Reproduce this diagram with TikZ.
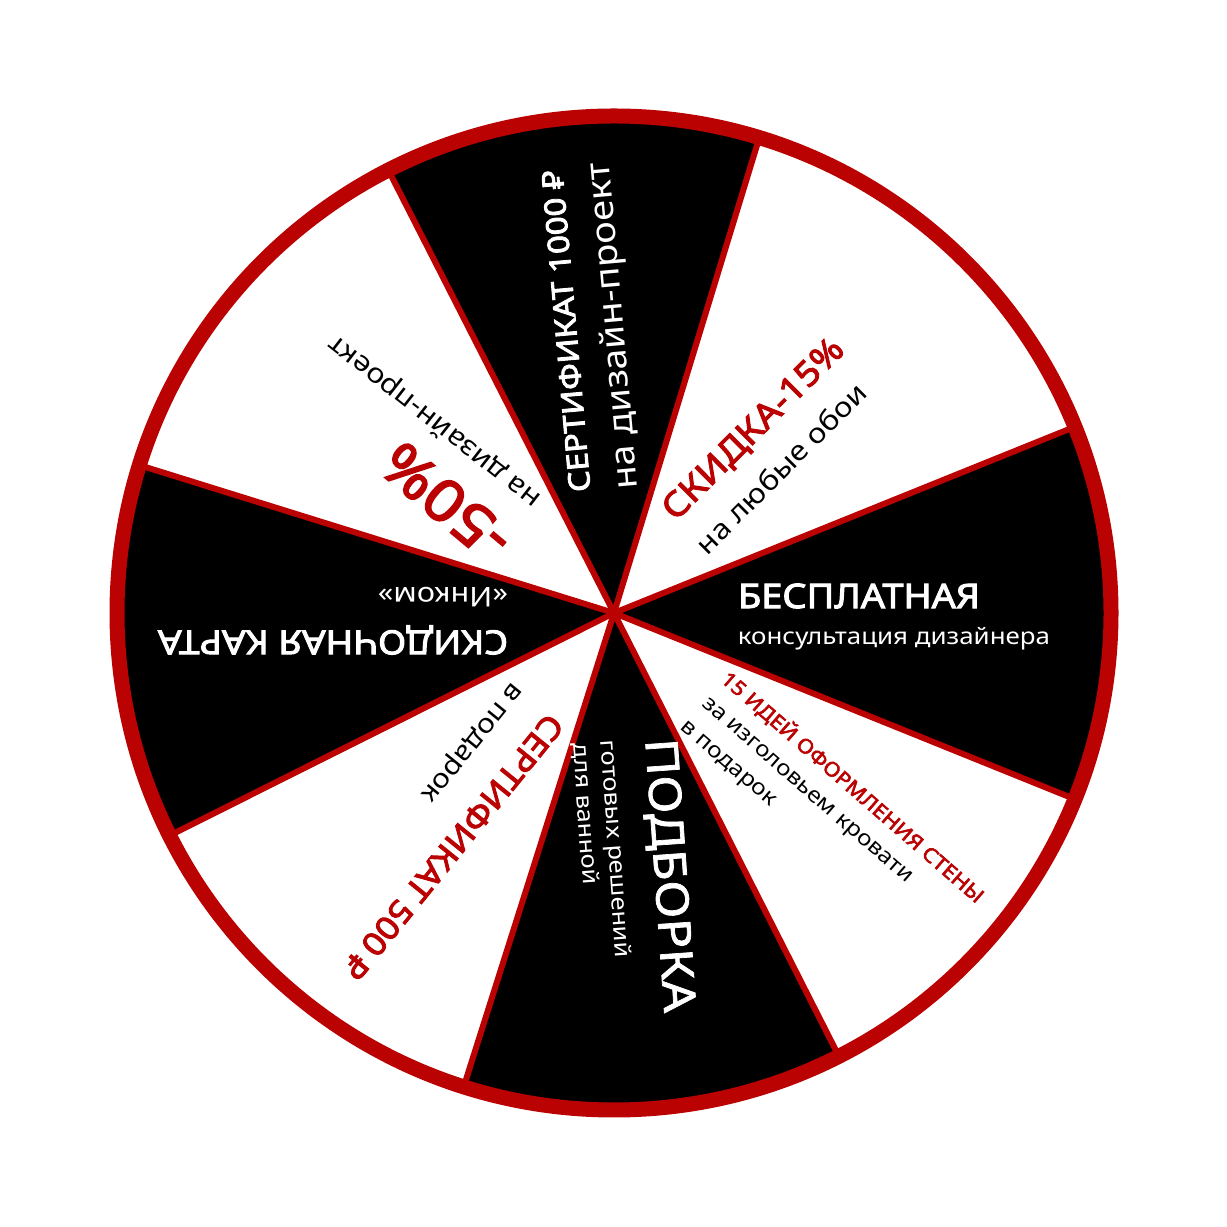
\documentclass[tikz,border=0pt]{standalone}
\usepackage{fontspec}
\usepackage{graphicx}
\setmainfont{Noto Sans}[FakeStretch=1.12]
\newfontfamily\medfont{Noto Sans}[FakeStretch=1.12,FakeBold=1.6]
\newfontfamily\hbold{Noto Sans}[FakeStretch=1.12,FakeBold=3]
\definecolor{wred}{RGB}{187,2,2}
\tikzset{
 lbl/.style={inner sep=0pt,outer sep=0pt,anchor=center},
 wtxt/.style={lbl,text=white},
 btxt/.style={lbl,text=black},
 rtxt/.style={lbl,text=wred},
 divider/.style={draw=wred,line width=6pt},
 rim/.style={draw=wred,line width=15pt},
}
\newcommand{\fw}[2]{\resizebox{#1pt}{!}{#2}}
\begin{document}
\begin{tikzpicture}[x=1pt,y=1pt]
\useasboundingbox (0,0) rectangle (1227,1227);
\fill[white] (0,0) rectangle (1227,1227);
\coordinate (c) at (614,614);
\def\R{497}
\foreach \a/\b in {73/117,162.7/206.6,252.4/296.9,-22/22}
  \fill[black] (c) -- ++(\a:\R) arc[start angle=\a,end angle=\b,radius=\R] -- cycle;
\foreach \a in {22,73,117,162.7,206.6,252.4,296.9,338}
  \draw[divider] (c) -- ++(\a:\R);
\draw[rim] (c) circle[radius=\R];

% top sector
\node[wtxt,rotate=95] (t1) at (566,896) {\fw{323}{\hbold СЕРТИФИКАТ 1000 ₽}};
\node[wtxt,rotate=95] (t2) at (615,901) {\fw{328}{на дизайн-проект}};
% upper right
\node[rtxt,rotate=45] (s2a) at (754,797) {\fw{241}{\hbold СКИДКА-15\%}};
\node[btxt,rotate=45] (s2b) at (781,759) {\fw{228}{на любые обои}};
% right
\node[wtxt] (s3a) at (859,631) {\fw{242}{\hbold БЕСПЛАТНАЯ}};
\node[wtxt] (s3b) at (894,588.5) {\fw{312}{консультация дизайнера}};
% lower right
\node[rtxt,rotate=-41] (s4a) at (853,440) {\fw{340}{\hbold 15 ИДЕЙ ОФОРМЛЕНИЯ СТЕНЫ}};
\node[btxt,rotate=-41] (s4b) at (806,435) {\fw{272}{за изголовьем кровати}};
\node[btxt,rotate=-41] (s4c) at (727,462) {\fw{120}{в подарок}};
% bottom
\node[wtxt,rotate=-86] (s5a) at (667.5,351.5) {\fw{274}{\medfont ПОДБОРКА}};
\node[wtxt,rotate=-86] (s5b) at (614,378) {\fw{218}{готовых решений}};
\node[wtxt,rotate=-86] (s5c) at (585,413) {\fw{142}{для ванной}};
% lower left
\node[rtxt,rotate=231] (s6a) at (453,380) {\fw{330}{\hbold СЕРТИФИКАТ 500 ₽}};
\node[btxt,rotate=231] (s6b) at (470,486) {\fw{146}{в подарок}};
% left
\node[wtxt,rotate=180] (s7a) at (333,587) {\fw{350}{\hbold СКИДОЧНАЯ КАРТА}};
\node[wtxt,rotate=180] (s7b) at (443,630) {\fw{130}{«Инком»}};
% upper left
\node[rtxt,rotate=140] (s8a) at (446,725) {\fw{148}{\hbold -50\%}};
\node[btxt,rotate=142] (s8b) at (435,806) {\fw{262}{на дизайн-проект}};
\end{tikzpicture}
\end{document}
